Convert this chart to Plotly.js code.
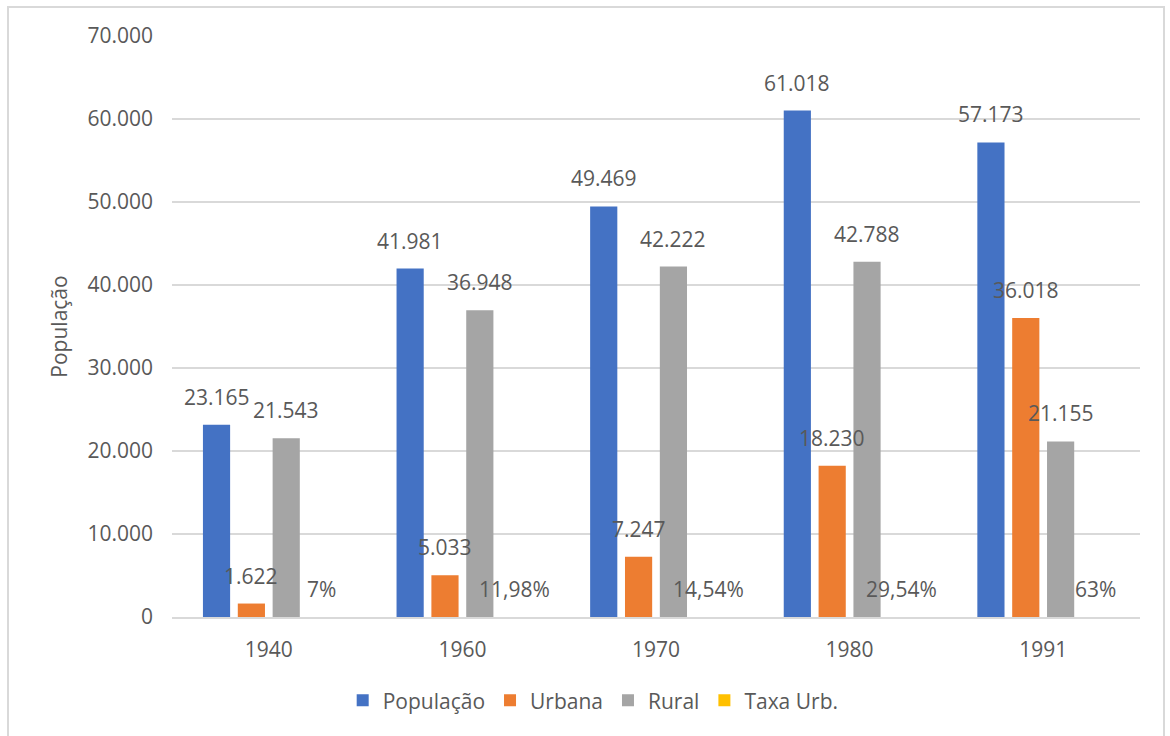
<!DOCTYPE html>
<html>
<head>
<meta charset="utf-8">
<script src="https://cdn.plot.ly/plotly-3.0.1.min.js"></script>
<style>
  html, body { margin: 0; padding: 0; background: #ffffff; overflow: hidden; }
  #chart { width: 1170px; height: 736px; }
  #frame {
    position: absolute; left: 7px; top: 6px; width: 1158px; height: 740px;
    border: 2px solid #d9d9d9; pointer-events: none; box-sizing: border-box;
  }
</style>
</head>
<body>
<div id="chart"></div>
<div id="frame"></div>
<script>
// Census years and population figures (thousands of inhabitants)
const years = ['1940', '1960', '1970', '1980', '1991'];
const populacao = [23165, 41981, 49469, 61018, 57173];
const urbana = [1622, 5033, 7247, 18230, 36018];
const rural = [21543, 36948, 42222, 42788, 21155];
// Urbanization rate, as a fraction
const taxaUrb = [0.07, 0.1198, 0.1454, 0.2954, 0.63];

const seriesNames = ['População', 'Urbana', 'Rural', 'Taxa Urb.'];
const seriesColors = ['#4472C4', '#ED7D31', '#A5A5A5', '#FFC000'];
const seriesValues = [populacao, urbana, rural, taxaUrb];

const textColor = '#595959';
const fontFamily = '"Open Sans", "Noto Sans", sans-serif';
const fontSize = 21;

function fmtThousands(v) {
  return String(Math.round(v)).replace(/\B(?=(\d{3})+(?!\d))/g, '.');
}
function fmtPercent(v) {
  const p = Math.round(v * 10000) / 100;
  return String(p).replace('.', ',') + '%';
}

const traces = seriesNames.map((name, i) => ({
  type: 'bar',
  name: name,
  x: years,
  y: seriesValues[i],
  marker: { color: seriesColors[i] },
  hoverinfo: 'skip'
}));

// Plot geometry used to place the value labels over each bar of a group
const margin = { l: 172, r: 30, t: 36, b: 119 };
const plotWidth = 1170 - margin.l - margin.r;
const bargap = 0.28;
const slot = (plotWidth / years.length) * (1 - bargap) / seriesNames.length;

const annotations = [];
seriesValues.forEach((vals, s) => {
  const shift = (s - (seriesNames.length - 1) / 2) * slot;
  vals.forEach((v, k) => {
    annotations.push({
      x: k, y: v, xref: 'x', yref: 'y',   // k = category index on the x axis
      text: s === 3 ? fmtPercent(v) : fmtThousands(v),
      showarrow: false,
      xanchor: 'center', yanchor: 'bottom',
      xshift: shift, yshift: 12,
      font: { family: fontFamily, size: fontSize, color: textColor }
    });
  });
});

const layout = {
  width: 1170,
  height: 736,
  margin: margin,
  paper_bgcolor: '#ffffff',
  plot_bgcolor: '#ffffff',
  separators: ',.',
  barmode: 'group',
  bargap: bargap,
  bargroupgap: 0.22,
  font: { family: fontFamily, size: fontSize, color: textColor },
  xaxis: {
    type: 'category',
    categoryorder: 'array',
    categoryarray: years,
    range: [-0.5, years.length - 0.5],
    showgrid: false,
    showline: true,
    linecolor: '#d9d9d9',
    linewidth: 2,
    ticks: '',
    ticklabelstandoff: 13,
    tickfont: { family: fontFamily, size: fontSize, color: textColor },
    fixedrange: true
  },
  yaxis: {
    range: [0, 70000],
    dtick: 10000,
    tickformat: ',d',
    showgrid: true,
    gridcolor: '#d9d9d9',
    gridwidth: 2,
    zeroline: false,
    showline: false,
    ticks: '',
    ticklabelstandoff: 18,
    tickfont: { family: fontFamily, size: fontSize, color: textColor },
    title: {
      text: 'População',
      standoff: 14,
      font: { family: fontFamily, size: fontSize, color: textColor }
    },
    fixedrange: true
  },
  showlegend: true,
  legend: {
    orientation: 'h',
    xref: 'container', yref: 'container',
    x: 0.507, xanchor: 'center',
    y: 0.048, yanchor: 'middle',
    font: { family: fontFamily, size: fontSize, color: textColor },
    itemclick: false, itemdoubleclick: false
  },
  annotations: annotations
};

Plotly.newPlot('chart', traces, layout, { displayModeBar: false, staticPlot: true });
</script>
</body>
</html>
